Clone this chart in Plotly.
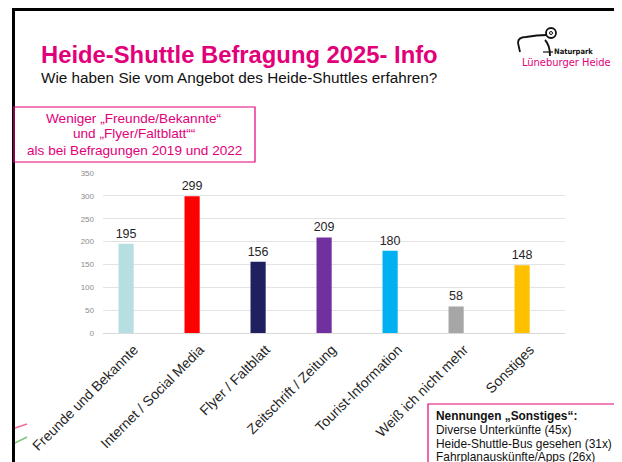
import plotly.graph_objects as go

# browser body margin offsets the figure by 8px; compensate
OFF = 8
W, H = 622 - OFF, 462 - OFF

categories = ["Freunde und Bekannte", "Internet / Social Media", "Flyer / Faltblatt",
              "Zeitschrift / Zeitung", "Tourist-Information", "Weiß ich nicht mehr", "Sonstiges"]
values = [195, 299, 156, 209, 180, 58, 148]
bar_colors = ["#B7DEE1", "#FF0000", "#202060", "#7030A0", "#00B0F0", "#A6A6A6", "#FFC000"]
y_ticks = [0, 50, 100, 150, 200, 250, 300, 350]

title = "Heide-Shuttle Befragung 2025- Info"
subtitle = "Wie haben Sie vom Angebot des Heide-Shuttles erfahren?"
note_lines = ["Weniger „Freunde/Bekannte“", "und „Flyer/Faltblatt““", "als bei Befragungen 2019 und 2022"]
sonst_head = "Nennungen „Sonstiges“:"
sonst_lines = ["Diverse Unterkünfte (45x)", "Heide-Shuttle-Bus gesehen (31x)", "Fahrplanauskünfte/Apps (26x)"]

PINK = "#E2007A"
FONT = "Liberation Sans, Arial, sans-serif"


def px(x):
    return (x - OFF) / W


def py(y):
    return 1 - (y - OFF) / H


def pp(x, y):
    return f"{px(x)} {py(y)}"


fig = go.Figure()
fig.add_trace(go.Bar(
    x=categories, y=values, marker=dict(color=bar_colors, line=dict(width=0)),
    text=[str(v) for v in values], textposition="outside", cliponaxis=False,
    textfont=dict(size=12.5, color="#262626", family=FONT),
    width=0.23, hoverinfo="skip",
))

shapes = []
# slide frame
shapes.append(dict(type="line", xref="paper", yref="paper", x0=px(12), x1=px(620), y0=py(9.5), y1=py(9.5),
                   line=dict(color="#000", width=3)))
shapes.append(dict(type="line", xref="paper", yref="paper", x0=px(13.5), x1=px(13.5), y0=py(8), y1=py(470),
                   line=dict(color="#000", width=3)))
shapes.append(dict(type="line", xref="paper", yref="paper", x0=px(619.5), x1=px(619.5), y0=py(8), y1=py(470),
                   line=dict(color="#000", width=5)))
# note box
shapes.append(dict(type="rect", xref="paper", yref="paper", x0=px(14), x1=px(255), y0=py(107), y1=py(162),
                   line=dict(color=PINK, width=1.2), fillcolor="rgba(0,0,0,0)"))
# sonstiges box
shapes.append(dict(type="rect", xref="paper", yref="paper", x0=px(428), x1=px(640), y0=py(404), y1=py(480),
                   line=dict(color=PINK, width=1.2), fillcolor="white"))
# decorative lines left
shapes.append(dict(type="line", xref="paper", yref="paper", x0=px(15), x1=px(27), y0=py(428), y1=py(424),
                   line=dict(color="#F06C9B", width=1.5)))
shapes.append(dict(type="line", xref="paper", yref="paper", x0=px(15), x1=px(27), y0=py(443), y1=py(437),
                   line=dict(color="#7DC47D", width=1.5)))

# logo sheep (simplified)
shapes.append(dict(type="path", xref="paper", yref="paper",
                   path="M " + pp(520, 52) + " L " + pp(518, 43) + " Q " + pp(518, 37) + " " + pp(526, 37)
                        + " Q " + pp(537, 35) + " " + pp(547, 35),
                   line=dict(color="#111", width=1.8)))
shapes.append(dict(type="path", xref="paper", yref="paper",
                   path="M " + pp(545, 40) + " Q " + pp(550, 45) + " " + pp(550, 56),
                   line=dict(color="#111", width=1.8)))
shapes.append(dict(type="path", xref="paper", yref="paper",
                   path="M " + pp(543, 52) + " L " + pp(553, 52),
                   line=dict(color="#111", width=1.2)))
shapes.append(dict(type="circle", xref="paper", yref="paper", x0=px(546), x1=px(556), y0=py(28), y1=py(38),
                   line=dict(color="#111", width=1.8)))
shapes.append(dict(type="circle", xref="paper", yref="paper", x0=px(549.5), x1=px(552.5), y0=py(31.5), y1=py(34.5),
                   line=dict(color="#111", width=1)))

ann = []
ann.append(dict(text="<b>" + title + "</b>", x=px(39), y=py(54), xref="paper", yref="paper",
                xanchor="left", yanchor="middle", showarrow=False,
                font=dict(size=23.8, color=PINK, family=FONT)))
ann.append(dict(text=subtitle, x=px(39), y=py(78), xref="paper", yref="paper",
                xanchor="left", yanchor="middle", showarrow=False,
                font=dict(size=15.3, color="#111", family=FONT)))
for i, line in enumerate(note_lines):
    ann.append(dict(text=line, x=px(134), y=py(118 + 16 * i), xref="paper", yref="paper",
                    xanchor="center", yanchor="middle", showarrow=False,
                    font=dict(size=13.6, color=PINK, family=FONT)))
ann.append(dict(text="<b>" + sonst_head + "</b>", x=px(434), y=py(416), xref="paper", yref="paper",
                xanchor="left", yanchor="middle", showarrow=False,
                font=dict(size=11.9, color="#111", family=FONT)))
for i, line in enumerate(sonst_lines):
    ann.append(dict(text=line, x=px(434), y=py(430 + 13.7 * i), xref="paper", yref="paper",
                    xanchor="left", yanchor="middle", showarrow=False,
                    font=dict(size=11.9, color="#111", family=FONT)))
# logo text
ann.append(dict(text="<b>Naturpark</b>", x=px(552), y=py(52), xref="paper", yref="paper",
                xanchor="left", yanchor="middle", showarrow=False,
                font=dict(size=7.5, color="#111", family="DejaVu Sans Condensed, DejaVu Sans")))
ann.append(dict(text="Lüneburger Heide", x=px(566), y=py(63), xref="paper", yref="paper",
                xanchor="center", yanchor="middle", showarrow=False,
                font=dict(size=11, color=PINK, family="DejaVu Sans Condensed, DejaVu Sans")))

fig.update_layout(
    width=W, height=H, margin=dict(l=0, r=0, t=0, b=0, autoexpand=False),
    paper_bgcolor="white", plot_bgcolor="white",
    showlegend=False, shapes=shapes, annotations=ann,
    font=dict(family=FONT), uniformtext=dict(mode="show", minsize=12),
    xaxis=dict(domain=[px(103), px(565)], range=[-0.35, 6.65], tickangle=-45, automargin=False,
               tickfont=dict(size=14, color="#262626", family=FONT),
               ticklabelshift=8, ticklabelstandoff=2,
               showline=True, linecolor="#D9D9D9", linewidth=1, ticks="", showgrid=False),
    yaxis=dict(domain=[py(333), py(173)], range=[0, 350], tickvals=y_ticks, automargin=False,
               tickfont=dict(size=8, color="#8C8C8C", family=FONT),
               showgrid=True, gridcolor="#E3E3E3", gridwidth=1, zeroline=False,
               ticks="", showline=False, ticklabelstandoff=8),
)

fig.write_html("out.html")
